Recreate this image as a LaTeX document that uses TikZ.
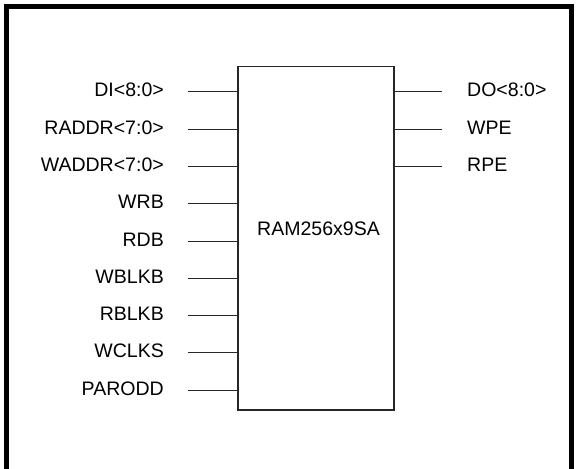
\documentclass[tikz,border=0pt]{standalone}
\usepackage{fontspec}
\setmainfont{Liberation Sans}
\begin{document}
\begin{tikzpicture}[x=1bp,y=-1bp,
  pinline/.style={line width=1bp, draw=black!85},
  lbl/.style={font=\fontsize{19.6}{23}\selectfont, inner sep=0pt},
  frame/.style={line width=5bp, draw=black},
  block/.style={draw=black!85, line width=1.5bp, minimum width=156bp, minimum height=343bp, inner sep=0pt, anchor=north west}]
\useasboundingbox (0,0) rectangle (576,469);
\draw[frame] (6.5,469) -- (6.5,6.5) -- (571.5,6.5) -- (571.5,469);
\node[block] (ram) at (237,66) {};
\node[lbl, anchor=base west] (title) at (257,236) {RAM256x9SA};
% left pins
\foreach \i/\t/\y in {1/DI<8:0>/92, 2/RADDR<7:0>/129.3, 3/WADDR<7:0>/166.7, 4/WRB/204, 5/RDB/241.3, 6/WBLKB/278.7, 7/RBLKB/315.5, 8/WCLKS/352.8, 9/PARODD/390}{
  \node[lbl, anchor=base east] (L\i) at (164,\y+5) {\t};
  \coordinate (pL\i) at (188,\y);
  \draw[pinline] (pL\i) -- (pL\i -| ram.west);
}
% right pins
\foreach \i/\t/\y in {1/DO<8:0>/92, 2/WPE/129.3, 3/RPE/166.7}{
  \node[lbl, anchor=base west] (R\i) at (467,\y+5) {\t};
  \coordinate (pR\i) at (442,\y);
  \draw[pinline] (pR\i -| ram.east) -- (pR\i);
}
\end{tikzpicture}
\end{document}
